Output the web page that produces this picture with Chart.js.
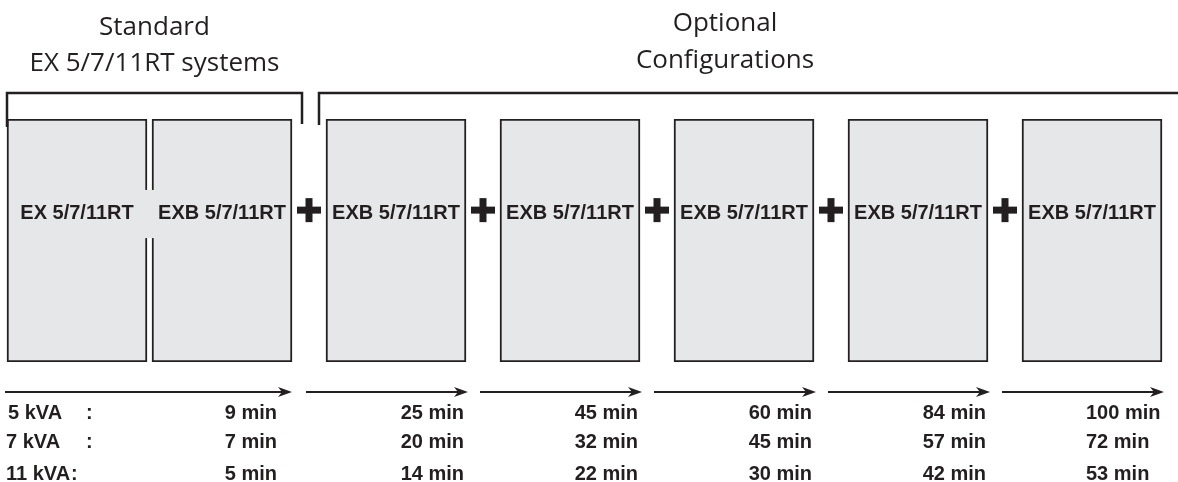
<!DOCTYPE html>
<html>
<head>
<meta charset="utf-8">
<script src="https://cdn.jsdelivr.net/npm/chart.js@4"></script>
<style>
  html, body { margin: 0; padding: 0; background: #fff; }
  #wrap { width: 1178px; height: 482px; }
</style>
</head>
<body>
<div id="wrap"><canvas id="myChart" width="1178" height="482"></canvas></div>
<script>
// modules (boxes) and runtime table
let modules = ["EX 5/7/11RT", "EXB 5/7/11RT", "EXB 5/7/11RT", "EXB 5/7/11RT", "EXB 5/7/11RT", "EXB 5/7/11RT", "EXB 5/7/11RT"];
let kvaLabels = ["5 kVA", "7 kVA", "11 kVA"];
let runtime5 = [9, 25, 45, 60, 84, 100];
let runtime7 = [7, 20, 32, 45, 57, 72];
let runtime11 = [5, 14, 22, 30, 42, 53];
let headings = [["Standard", "EX 5/7/11RT systems"], ["Optional", "Configurations"]];

// layout in module units (1 unit = one box width)
const PX = 140;
const PAIR_GAP = 5 / PX;
const PLUS_GAP = 34 / PX;
function leftOf(i) {
  if (i === 0) return 0;
  if (i === 1) return 1 + PAIR_GAP;
  return 2 + PAIR_GAP + PLUS_GAP + (i - 2) * (1 + PLUS_GAP);
}

const INK = "#231f20";
const FILL = "#e6e7e8";
const BOLD = "bold 20px 'Liberation Sans', Arial, sans-serif";
const LIGHT = "26px 'Open Sans', sans-serif";

function arrow(ctx, x1, x2, y) {
  ctx.beginPath();
  ctx.moveTo(x1, y);
  ctx.lineTo(x2 - 8, y);
  ctx.lineWidth = 2;
  ctx.strokeStyle = INK;
  ctx.stroke();
  ctx.beginPath();
  ctx.moveTo(x2, y);
  ctx.lineTo(x2 - 14, y - 5);
  ctx.lineTo(x2 - 10, y);
  ctx.lineTo(x2 - 14, y + 5);
  ctx.closePath();
  ctx.fillStyle = INK;
  ctx.fill();
}

let diagram = {
  id: "diagram",
  afterDatasetsDraw(chart) {
    let ctx = chart.ctx;
    let area = chart.chartArea;
    let y = chart.scales.y;
    let bars = chart.getDatasetMeta(0).data;
    let L = bars.map(b => b.x - b.width / 2);
    let R = bars.map(b => b.x + b.width / 2);
    ctx.save();

    // bridge between the two standard boxes
    ctx.fillStyle = FILL;
    ctx.fillRect(R[0] - 2, y.getPixelForValue(0.708), L[1] - R[0] + 4, y.getPixelForValue(0.51) - y.getPixelForValue(0.708));

    // box labels
    ctx.fillStyle = INK;
    ctx.font = BOLD;
    ctx.textAlign = "center";
    ctx.textBaseline = "middle";
    let labelY = y.getPixelForValue(0.61);
    bars.forEach((b, i) => ctx.fillText(modules[i], b.x, labelY));

    // plus signs between optional modules
    let plusX = [];
    for (let i = 1; i < bars.length - 1; i++) {
      let cx = (R[i] + L[i + 1]) / 2;
      plusX.push(cx);
      let cy = y.getPixelForValue(0.625);
      ctx.fillRect(cx - 12, cy - 3.5, 24, 7);
      ctx.fillRect(cx - 3.5, cy - 12, 7, 24);
    }

    // brackets
    let top = area.top - 26;
    ctx.strokeStyle = INK;
    ctx.lineWidth = 2.5;
    ctx.beginPath();
    ctx.moveTo(L[0], area.top + 8);
    ctx.lineTo(L[0], top);
    ctx.lineTo(R[1] + 10, top);
    ctx.lineTo(R[1] + 10, area.top + 5);
    ctx.stroke();
    ctx.beginPath();
    ctx.moveTo(L[2] - 7, area.top + 6);
    ctx.lineTo(L[2] - 7, top);
    ctx.lineTo(chart.width + 5, top);
    ctx.stroke();

    // headings
    ctx.font = LIGHT;
    ctx.textBaseline = "alphabetic";
    let hx = [(L[0] + R[1] + 10) / 2, (L[2] + R[6]) / 2 - 19];
    ctx.fillText(headings[0][0], hx[0], 35);
    ctx.fillText(headings[0][1], hx[0], 71);
    ctx.fillText(headings[1][0], hx[1], 31);
    ctx.fillText(headings[1][1], hx[1], 68);

    // arrows, one per configuration
    let arrowY = area.bottom + 30;
    let ends = [R[1]];
    let starts = [L[0] - 2];
    for (let i = 2; i < bars.length; i++) {
      starts.push(plusX[i - 2] - 3);
      ends.push(R[i] + 2);
    }
    starts.forEach((s, i) => arrow(ctx, s, ends[i], arrowY));

    // runtime table
    let rows = [runtime5, runtime7, runtime11];
    let baselines = [area.bottom + 57, area.bottom + 86, area.bottom + 118];
    ctx.font = BOLD;
    rows.forEach((vals, r) => {
      ctx.textAlign = "left";
      let lbl = kvaLabels[r];
      let lx = r === 0 ? 8 : 6;
      ctx.fillText(lbl, lx, baselines[r]);
      let w = ctx.measureText(lbl).width;
      let colonX = w > 60 ? lx + w + 1 : 86;
      ctx.fillText(":", colonX, baselines[r]);
      vals.forEach((v, c) => {
        let txt = v + " min";
        if (c === vals.length - 1) {
          ctx.textAlign = "left";
          ctx.fillText(txt, starts[c] + 84, baselines[r]);
        } else {
          ctx.textAlign = "right";
          let rx = c === 0 ? ends[c] - 15 : ends[c] - 4;
          ctx.fillText(txt, rx, baselines[r]);
        }
      });
    });
    ctx.restore();
  }
};

let canvas = document.getElementById("myChart");
let ctx = canvas.getContext("2d");
let chart = new Chart(ctx, {
  type: "bar",
  data: {
    datasets: [
      {
        data: modules.map((m, i) => ({ x: leftOf(i) + 0.5, y: [0, 1] })),
        backgroundColor: FILL,
        borderColor: INK,
        borderWidth: 2,
        borderSkipped: false,
        barThickness: PX,
      },
    ],
  },
  options: {
    responsive: false,
    animation: false,
    events: [],
    layout: { padding: { top: 119, bottom: 120, left: 0, right: 0 } },
    plugins: { legend: { display: false }, tooltip: { enabled: false } },
    scales: {
      x: { type: "linear", display: false, offset: false, min: -7 / PX, max: -7 / PX + 1178 / PX },
      y: { display: false, min: 0, max: 1 },
    },
  },
  plugins: [diagram],
});
</script>
</body>
</html>
